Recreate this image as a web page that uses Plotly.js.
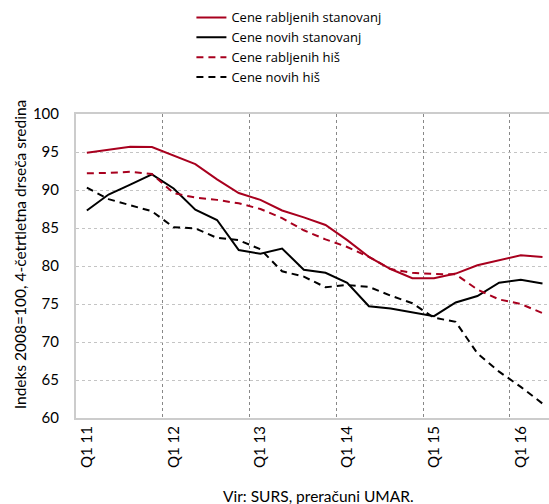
<!DOCTYPE html>
<html>
<head>
<meta charset="utf-8">
<script src="https://cdn.plot.ly/plotly-3.0.1.min.js"></script>
<style>
  html, body { margin: 0; padding: 0; background: #fff; }
  #chart { width: 549px; height: 504px; }
</style>
</head>
<body>
<div id="chart"></div>
<script>
// quarters Q1 2011 .. Q2 2016
var quarters = ["Q1 11","Q2 11","Q3 11","Q4 11","Q1 12","Q2 12","Q3 12","Q4 12",
                "Q1 13","Q2 13","Q3 13","Q4 13","Q1 14","Q2 14","Q3 14","Q4 14",
                "Q1 15","Q2 15","Q3 15","Q4 15","Q1 16","Q2 16"];
var tickLabels = ["Q1 11", "Q1 12", "Q1 13", "Q1 14", "Q1 15", "Q1 16"];

var rabljenaStanovanja = [94.9, 95.35, 95.7, 95.65, 94.5, 93.4, 91.4, 89.6, 88.7, 87.3, 86.4,
                          85.4, 83.4, 81.2, 79.6, 78.4, 78.4, 79.0, 80.1, 80.8, 81.4, 81.2];
var novaStanovanja = [87.3, 89.4, 90.7, 92.05, 90.2, 87.4, 86.05, 82.1, 81.6, 82.3, 79.5,
                      79.1, 77.8, 74.7, 74.4, 73.9, 73.4, 75.2, 76.05, 77.8, 78.2, 77.7];
var rabljeneHise = [92.2, 92.25, 92.4, 92.1, 89.6, 89.0, 88.7, 88.25, 87.5, 86.3, 84.7,
                    83.5, 82.5, 81.2, 79.6, 79.1, 78.95, 78.9, 76.9, 75.6, 75.0, 73.8];
var noveHise = [90.3, 88.8, 88.0, 87.2, 85.1, 84.95, 83.7, 83.4, 82.2, 79.3, 78.6,
                77.2, 77.5, 77.25, 76.1, 75.1, 73.2, 72.65, 68.5, 66.1, 64.1, 61.9];

var red = "#a8001e";
var font = "Lato, 'Open Sans', sans-serif";
var gridColor = "#c4c4c4";

// quarter index positions, label positions (Q1) and year boundaries
var xs = quarters.map(function (q, i) { return i; });
var tickVals = [], gridVals = [];
quarters.forEach(function (q, i) {
  if (tickLabels.indexOf(q) >= 0) tickVals.push(i);
  if (i > 0 && q.indexOf("Q1") === 0) gridVals.push(i - 0.5);
});

var data = [
  {x: xs, y: rabljenaStanovanja, name: "Cene rabljenih stanovanj", type: "scatter", mode: "lines",
   line: {color: red, width: 2}},
  {x: xs, y: novaStanovanja, name: "Cene novih stanovanj", type: "scatter", mode: "lines",
   line: {color: "#000", width: 2}},
  {x: xs, y: rabljeneHise, name: "Cene rabljenih hiš", type: "scatter", mode: "lines",
   line: {color: red, width: 2, dash: "7px,5px"}},
  {x: xs, y: noveHise, name: "Cene novih hiš", type: "scatter", mode: "lines",
   line: {color: "#000", width: 2, dash: "7px,5px"}}
];

var layout = {
  width: 549,
  height: 504,
  margin: {l: 76, r: 0, t: 114, b: 86},
  paper_bgcolor: "#fff",
  plot_bgcolor: "#fff",
  font: {family: font, size: 14, color: "#000"},
  showlegend: true,
  legend: {x: 0.244, y: 1.367, xanchor: "left", yanchor: "top",
           font: {family: "'Open Sans', sans-serif", size: 13},
           bgcolor: "rgba(0,0,0,0)"},
  xaxis: {
    range: [-0.5, 21.3],
    tickmode: "array",
    tickvals: tickVals,
    ticktext: tickLabels,
    tickangle: -90,
    ticks: "",
    showgrid: false,
    // year boundaries drawn as minor gridlines (they sit on half pixels, hence darker colour)
    minor: {
      tickmode: "array",
      tickvals: gridVals,
      ticks: "",
      showgrid: true,
      gridcolor: "#888888",
      griddash: "dot",
      gridwidth: 1
    },
    zeroline: false,
    showline: true,
    mirror: true,
    linecolor: "#cccccc",
    linewidth: 2,
    tickfont: {size: 15}
  },
  yaxis: {
    range: [60, 100],
    tickvals: [60, 65, 70, 75, 80, 85, 90, 95, 100],
    ticks: "",
    ticklabelstandoff: 12,
    showgrid: true,
    gridcolor: gridColor,
    griddash: "dot",
    gridwidth: 1,
    zeroline: false,
    showline: true,
    linecolor: "#cccccc",
    linewidth: 2,
    tickfont: {size: 15}
  },
  annotations: [
    {
      text: "Indeks 2008=100, 4-četrtletna drseča sredina",
      xref: "paper", yref: "paper",
      x: -0.118, y: 0.536,
      xanchor: "center", yanchor: "middle",
      textangle: -90,
      showarrow: false,
      font: {size: 15.5}
    },
    {
      text: "Vir: SURS, preračuni UMAR.",
      xref: "paper", yref: "paper",
      x: 0.512, y: -0.256,
      xanchor: "center", yanchor: "middle",
      showarrow: false,
      font: {size: 15.5}
    }
  ]
};

Plotly.newPlot("chart", data, layout, {displayModeBar: false, staticPlot: true});
</script>
</body>
</html>
